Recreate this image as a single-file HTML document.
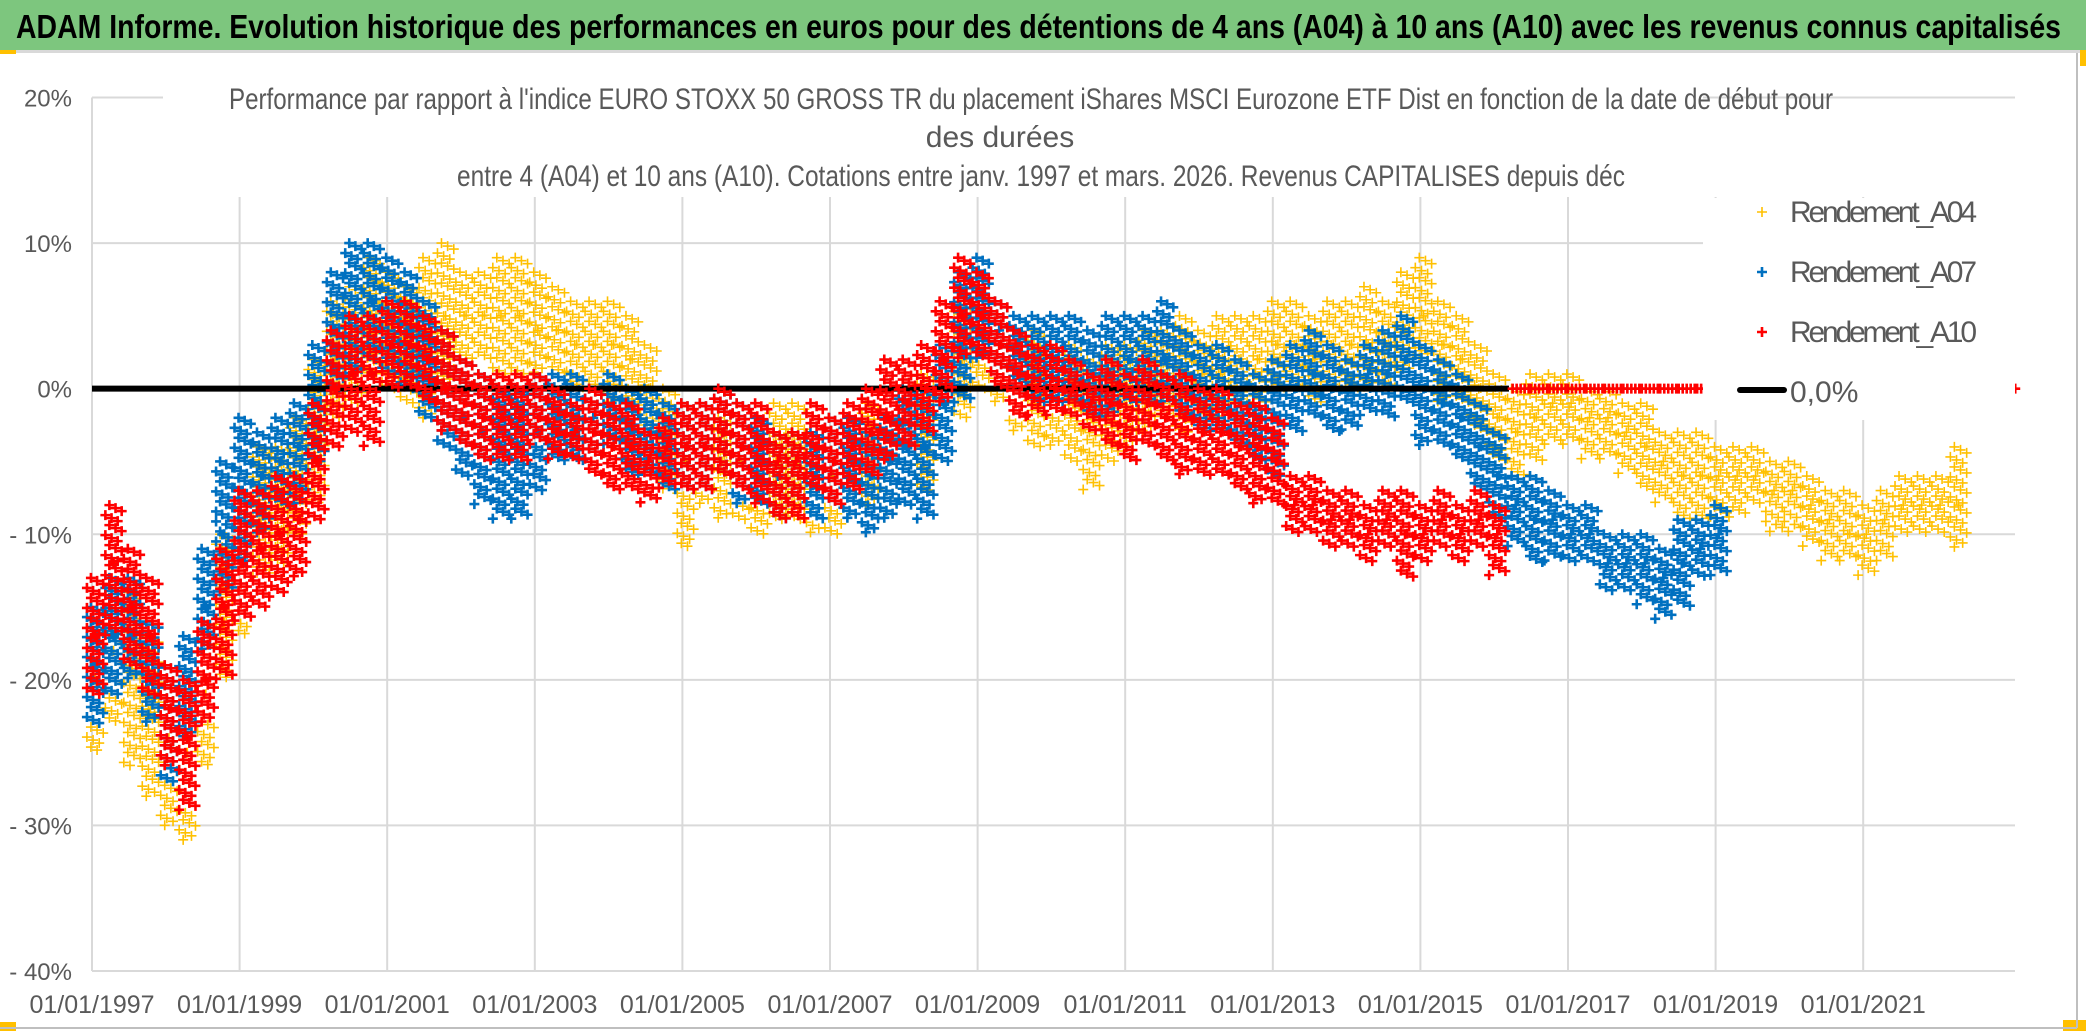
<!DOCTYPE html>
<html><head><meta charset="utf-8">
<style>
html,body{margin:0;padding:0;background:#fff;}
svg{display:block;}
text{font-family:"Liberation Sans Narrow","Liberation Sans",sans-serif;}
</style></head>
<body>
<svg id="chart" width="2086" height="1031" viewBox="0 0 2086 1031" xmlns="http://www.w3.org/2000/svg">
  <rect x="0" y="0" width="2086" height="1031" fill="#ffffff"/>
  <rect x="0" y="0" width="2086" height="50" fill="#7dc67e"/>
  <rect x="0" y="50" width="2086" height="3" fill="#d9d9d9"/>
  <rect x="0" y="50" width="16" height="4" fill="#ffc000"/>
  <rect x="2080" y="50" width="6" height="16" fill="#ffc000"/>
  <rect x="2063" y="1020" width="23" height="11" fill="#ffc000"/>
  <rect x="0" y="1022" width="16" height="9" fill="#ffc000"/>
  <line x1="2077" y1="53" x2="2077" y2="1028" stroke="#bfbfbf" stroke-width="2"/>
  <line x1="0" y1="1028" x2="2077" y2="1028" stroke="#bfbfbf" stroke-width="2"/>
  <text x="16" y="38" font-size="33" font-weight="bold" fill="#000" textLength="2045" lengthAdjust="spacingAndGlyphs">ADAM Informe. Evolution historique des performances en euros pour des détentions de 4 ans (A04) à 10 ans (A10) avec les revenus connus capitalisés</text>
  <g id="grid"></g>
  <g id="axes"></g>
  <g id="marks"></g>
  <rect x="163" y="62" width="1540" height="130" fill="#fff"/>
  <text x="229" y="109" font-size="30" fill="#595959" textLength="1604" lengthAdjust="spacingAndGlyphs">Performance par rapport à l'indice EURO STOXX 50 GROSS TR  du placement iShares MSCI Eurozone ETF Dist en fonction de la date de début pour</text>
  <text x="1000" y="147" font-size="30" fill="#595959" text-anchor="middle">des durées</text>
  <text x="457" y="186" font-size="30" fill="#595959" textLength="1168" lengthAdjust="spacingAndGlyphs">entre 4 (A04) et 10 ans (A10). Cotations entre janv. 1997 et mars. 2026. Revenus CAPITALISES depuis déc</text>
  <g id="legend"></g>
</svg>
<script>
const yTicks = [20, 10, 0, -10, -20, -30, -40];
const yTickLabels = ["20%", "10%", "0%", "- 10%", "- 20%", "- 30%", "- 40%"];
const xTicks = [1997, 1999, 2001, 2003, 2005, 2007, 2009, 2011, 2013, 2015, 2017, 2019, 2021];
const xTickLabels = ["01/01/1997","01/01/1999","01/01/2001","01/01/2003","01/01/2005","01/01/2007","01/01/2009","01/01/2011","01/01/2013","01/01/2015","01/01/2017","01/01/2019","01/01/2021"];
const seriesNames = ["Rendement_A04", "Rendement_A07", "Rendement_A10", "0,0%"];

const a04Dates = [1997,1997.25,1997.5,1997.75,1998,1998.25,1998.5,1998.75,1999,1999.25,1999.5,1999.75,2000,2000.25,2000.5,2000.75,2001,2001.25,2001.5,2001.75,2002,2002.25,2002.5,2002.75,2003,2003.25,2003.5,2003.75,2004,2004.25,2004.5,2004.75,2005,2005.25,2005.5,2005.75,2006,2006.25,2006.5,2006.75,2007,2007.25,2007.5,2007.75,2008,2008.25,2008.5,2008.75,2009,2009.25,2009.5,2009.75,2010,2010.25,2010.5,2010.75,2011,2011.25,2011.5,2011.75,2012,2012.25,2012.5,2012.75,2013,2013.25,2013.5,2013.75,2014,2014.25,2014.5,2014.75,2015,2015.25,2015.5,2015.75,2016,2016.25,2016.5,2016.75,2017,2017.25,2017.5,2017.75,2018,2018.25,2018.5,2018.75,2019,2019.25,2019.5,2019.75,2020,2020.25,2020.5,2020.75,2021,2021.25,2021.5,2021.75,2022,2022.25];
const a04Mid = [-20,-18,-19,-22,-24,-25,-21,-16,-12,-9,-8,-6,-3,2,3,5,4,3,3,5,5,5,5,5,4,4,3,3,3,2,0,-3,-5,-4,-5,-5,-6,-5,-5,-6,-6,-5,-4,-5,-4,-3,-1,2,4,3,1,0,0,-1,-2,-1,0,0,1,1,1,1,2,2,3,3,2,3,3,3,3,4,5,3,2,0,-2,-3,-2,-1,-1,-2,-2,-3,-4,-5,-6,-6,-6,-6,-6,-7,-7,-8,-9,-10,-10,-9,-8,-8,-8,-8];
const a04Low = [-25,-23,-26,-28,-30,-31,-26,-20,-17,-13,-12,-10,-8,-2,-1,1,0,-1,-2,0,2,2,1,1,1,1,0,0,-1,-1,-3,-7,-11,-8,-9,-9,-10,-9,-9,-10,-10,-9,-8,-9,-8,-7,-5,-2,0,-1,-3,-4,-4,-5,-7,-5,-4,-3,-2,-3,-2,-2,-1,-1,0,0,-1,0,0,0,0,1,2,-1,-1,-3,-5,-6,-5,-4,-4,-5,-5,-6,-7,-8,-9,-9,-9,-9,-8,-10,-10,-11,-12,-12,-13,-12,-10,-10,-10,-11];
const a04High = [-15,-13,-14,-17,-19,-20,-16,-10,-7,-4,-4,-2,2,6,7,9,8,7,9,10,8,8,9,9,8,7,6,6,6,5,3,0,-1,-1,-2,-1,-2,-1,-1,-3,-2,-2,-1,-2,0,1,3,6,8,6,4,4,3,3,2,3,3,4,4,5,4,5,5,5,6,6,5,6,6,7,6,8,9,6,5,3,1,0,1,1,1,0,0,-1,-1,-3,-3,-3,-4,-4,-4,-5,-5,-6,-7,-7,-8,-7,-6,-6,-6,-4];

const a07Dates = [1997,1997.25,1997.5,1997.75,1998,1998.25,1998.5,1998.75,1999,1999.25,1999.5,1999.75,2000,2000.25,2000.5,2000.75,2001,2001.25,2001.5,2001.75,2002,2002.25,2002.5,2002.75,2003,2003.25,2003.5,2003.75,2004,2004.25,2004.5,2004.75,2005,2005.25,2005.5,2005.75,2006,2006.25,2006.5,2006.75,2007,2007.25,2007.5,2007.75,2008,2008.25,2008.5,2008.75,2009,2009.25,2009.5,2009.75,2010,2010.25,2010.5,2010.75,2011,2011.25,2011.5,2011.75,2012,2012.25,2012.5,2012.75,2013,2013.25,2013.5,2013.75,2014,2014.25,2014.5,2014.75,2015,2015.25,2015.5,2015.75,2016,2016.25,2016.5,2016.75,2017,2017.25,2017.5,2017.75,2018,2018.25,2018.5,2018.75,2019];
const a07Mid = [-19,-17,-17,-20,-22,-20,-15,-10,-7,-6,-5,-4,-1,4,5,6,5,4,2,0,-2,-3,-4,-4,-3,-2,-2,-2,-1,-3,-3,-4,-4,-4,-3,-4,-5,-6,-5,-6,-5,-5,-6,-5,-4,-4,-1,3,5,4,3,2,2,2,1,1,2,2,2,1,0,0,-1,-2,-2,0,1,0,0,1,1,2,0,-1,-2,-4,-6,-8,-9,-9,-10,-10,-12,-12,-12,-13,-12,-11,-10];
const a07Low = [-23,-21,-20,-23,-27,-24,-18,-14,-12,-10,-8,-8,-5,0,1,2,1,0,-2,-4,-6,-8,-9,-9,-7,-5,-5,-5,-4,-6,-6,-7,-7,-7,-6,-8,-8,-9,-8,-9,-8,-9,-10,-9,-8,-9,-5,-1,2,1,0,-1,-1,-1,-2,-2,-1,-1,-1,-2,-3,-3,-4,-5,-6,-3,-2,-3,-3,-2,-2,-1,-4,-4,-5,-7,-9,-11,-12,-12,-12,-12,-14,-14,-15,-16,-15,-13,-13];
const a07High = [-15,-13,-13,-16,-19,-17,-11,-5,-2,-3,-2,-1,3,8,10,10,9,8,6,4,2,1,0,0,1,1,1,0,1,0,0,-1,-1,-1,0,-1,-2,-3,-3,-3,-2,-2,-3,-2,0,0,3,8,9,6,5,5,5,5,4,5,5,5,6,4,3,3,2,1,2,3,4,3,2,3,4,5,3,2,1,-1,-3,-6,-6,-7,-8,-8,-10,-10,-10,-11,-9,-9,-8];

const a10Dates = [1997,1997.25,1997.5,1997.75,1998,1998.25,1998.5,1998.75,1999,1999.25,1999.5,1999.75,2000,2000.25,2000.5,2000.75,2001,2001.25,2001.5,2001.75,2002,2002.25,2002.5,2002.75,2003,2003.25,2003.5,2003.75,2004,2004.25,2004.5,2004.75,2005,2005.25,2005.5,2005.75,2006,2006.25,2006.5,2006.75,2007,2007.25,2007.5,2007.75,2008,2008.25,2008.5,2008.75,2009,2009.25,2009.5,2009.75,2010,2010.25,2010.5,2010.75,2011,2011.25,2011.5,2011.75,2012,2012.25,2012.5,2012.75,2013,2013.25,2013.5,2013.75,2014,2014.25,2014.5,2014.75,2015,2015.25,2015.5,2015.75,2016,2016.25,2016.5,2016.75,2017,2017.25,2017.5,2017.75,2018,2018.25,2018.5,2018.75];
const a10Mid = [-17,-12,-15,-17,-22,-24,-20,-15,-12,-11,-10,-9,-5,0,1,1,3,3,2,0,-1,-2,-2,-2,-2,-3,-3,-3,-4,-4,-5,-4,-4,-4,-3,-4,-4,-5,-5,-4,-5,-4,-3,-2,-1,0,2,5,5,3,1,0,0,0,-1,-1,-2,-1,-2,-2,-3,-3,-4,-4,-5,-8,-8,-9,-9,-10,-9,-10,-10,-9,-10,-9,-10,0,0,0,0,0,0,0,0,0,0,0,0];
const a10Low = [-21,-17,-19,-21,-26,-29,-23,-20,-16,-15,-14,-13,-9,-4,-3,-4,0,0,-1,-3,-4,-5,-5,-5,-4,-5,-5,-6,-7,-7,-8,-7,-7,-7,-6,-7,-8,-9,-9,-7,-8,-7,-6,-5,-4,-3,-1,2,2,0,-2,-2,-2,-2,-3,-4,-5,-4,-5,-6,-6,-6,-7,-8,-8,-10,-10,-11,-11,-12,-11,-13,-12,-11,-12,-11,-13,0,0,0,0,0,0,0,0,0,0,0,0];
const a10High = [-13,-8,-11,-13,-19,-20,-16,-11,-7,-7,-6,-6,-1,4,5,5,6,6,5,4,2,1,1,1,1,0,-1,0,-1,-1,-3,-2,-1,-1,0,-1,-1,-3,-3,-1,-2,-1,0,2,2,3,6,9,8,6,4,3,3,2,1,2,1,2,1,1,0,0,-1,-1,-2,-6,-6,-7,-7,-8,-7,-7,-8,-7,-8,-7,-8,0,0,0,0,0,0,0,0,0,0,0,0];
const a10Extra = [[2023.06, 0]];

const zeroLineStart = 1997;
const zeroLineEnd = 2016.2;
const zeroLineValue = 0;

const L = 92, R = 2015, T = 97.5, B = 971;
const X0 = 1997, X1 = 1997 + (R - L) / 73.8;
const Y0 = -40, Y1 = 20;
const xs = v => L + (v - X0) / (X1 - X0) * (R - L);
const ys = v => B - (v - Y0) / (Y1 - Y0) * (B - T);
const NS = "http://www.w3.org/2000/svg";
function mk(tag, attrs, parent) {
  const e = document.createElementNS(NS, tag);
  for (const k in attrs) e.setAttribute(k, attrs[k]);
  parent.appendChild(e);
  return e;
}
const grid = document.getElementById('grid');
const axes = document.getElementById('axes');
const marks = document.getElementById('marks');
const legend = document.getElementById('legend');

yTicks.forEach((t, i) => {
  const gl = mk('line', {x1: L, x2: R, y1: ys(t), y2: ys(t), stroke: '#d9d9d9', 'stroke-width': 2}, grid);
  
  
  const tx = mk('text', {x: 72, y: ys(t) + 9, 'font-size': 24, fill: '#595959', 'text-anchor': 'end'}, axes);
  tx.textContent = yTickLabels[i];
  
  
});
xTicks.forEach((t, i) => {
  const gl = mk('line', {x1: xs(t), x2: xs(t), y1: 197, y2: B, stroke: '#d9d9d9', 'stroke-width': 2}, grid);
  
  
  const tx = mk('text', {x: xs(t), y: 1013, 'font-size': 25, fill: '#595959', 'text-anchor': 'middle'}, axes);
  tx.textContent = xTickLabels[i];
  
  
});
const ax = mk('line', {x1: L, x2: L, y1: T, y2: B, stroke: '#d9d9d9', 'stroke-width': 2}, grid);


const bx = mk('line', {x1: L, x2: R, y1: B, y2: B, stroke: '#d9d9d9', 'stroke-width': 2}, grid);



function cross(g, cx, cy, color, sw, size) {
  const p = mk('path', {d: `M${cx - size},${cy}H${cx + size}M${cx},${cy - size}V${cy + size}`, stroke: color, 'stroke-width': sw, fill: 'none'}, g);
  
  
}
function drawSeries(name, dates, mid, low, high, color, sw, size) {
  const g = mk('g', {}, marks);
  
  
  const qw = xs(1997.25) - xs(1997);
  const offs = [-qw / 3, 0, qw / 3];
  dates.forEach((d, i) => {
    const yl = ys(low[i]), yh = ys(high[i]), ym = ys(mid[i]);
    if (yl - yh < 1) {
      for (let o = 0; o < qw; o += 4) cross(g, xs(d) + o, ym, color, sw, size);
      return;
    }
    offs.forEach((o, k) => {
      const cx = xs(d) + o + qw / 6;
      for (let y = yh + (k * 3); y <= yl; y += 10) {
        cross(g, cx + ((y - yh) % 20 < 10 ? 2 : -2), y, color, sw, size);
      }
    });
    cross(g, xs(d) + qw / 6, ym, color, sw, size);
  });
}
drawSeries('series-a04', a04Dates, a04Mid, a04Low, a04High, '#ffc000', 1.6, 5);
drawSeries('series-a07', a07Dates, a07Mid, a07Low, a07High, '#0070c0', 2.6, 5);
const zl = mk('line', {x1: xs(zeroLineStart), x2: xs(zeroLineEnd), y1: ys(zeroLineValue), y2: ys(zeroLineValue), stroke: '#000', 'stroke-width': 6}, marks);


drawSeries('series-a10', a10Dates, a10Mid, a10Low, a10High, '#ff0000', 2.6, 5);
a10Extra.forEach(p => {
  const g = marks.lastChild;
  cross(g, xs(p[0]), ys(p[1]), '#ff0000', 2.6, 5);
});

const lb = mk('rect', {x: 1703, y: 198, width: 312, height: 222, fill: '#fff'}, legend);


const legColors = ['#ffc000', '#0070c0', '#ff0000'];
const legY = [212, 272, 332, 392];
seriesNames.forEach((n, i) => {
  const g = mk('g', {}, legend);
  
  
  if (i < 3) {
    cross(g, 1762, legY[i], legColors[i], i === 0 ? 1.6 : 2.6, 5);
  } else {
    const ln = mk('line', {x1: 1740, x2: 1784, y1: legY[i] - 2, y2: legY[i] - 2, stroke: '#000', 'stroke-width': 6, 'stroke-linecap': 'round'}, g);
    
    
  }
  const t = mk('text', {x: 1790, y: legY[i] + 10, 'font-size': 30, fill: '#595959'}, g);
  if (i < 3) t.setAttribute('textLength', 187);
  t.textContent = n;
  
  
});
</script>
</body></html>
